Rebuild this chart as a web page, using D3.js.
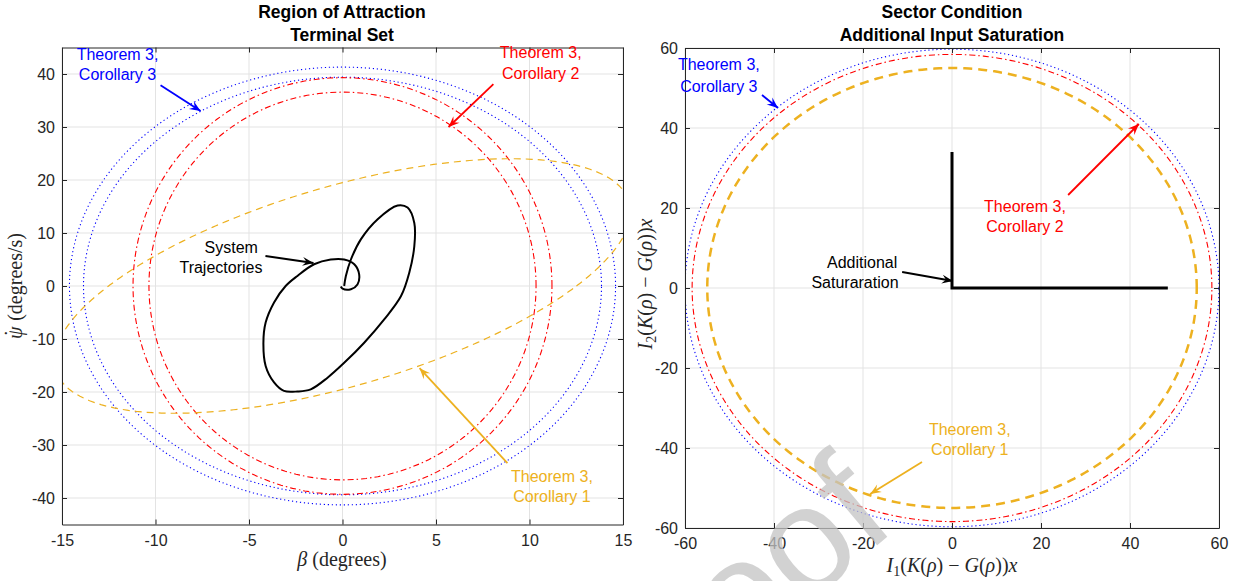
<!DOCTYPE html>
<html lang="en">
<head>
<meta charset="UTF-8">
<title>Region of Attraction / Sector Condition</title>
<style>
  body { margin: 0; background: #fff; }
  svg text { font-family: "Liberation Sans", Arial, Helvetica, sans-serif; }
  .tick text { font-size: 16px; fill: #262626; }
  .tick line { stroke: #262626; }
  .domain { stroke: #262626; }
  .title { font-size: 17.5px; font-weight: bold; fill: #000; }
  .axlabel { font-family: "Liberation Serif", "Times New Roman", serif; font-size: 20px; fill: #262626; }
  .note { font-size: 16px; }
</style>
</head>
<body>
<svg id="chart" width="1244" height="581"></svg>
<script src="https://cdn.jsdelivr.net/npm/d3@7"></script>
<script>

// ---------- left panel: region of attraction / terminal set ----------
const leftXTicks = [-15, -10, -5, 0, 5, 10, 15]
const leftYTicks = [-40, -30, -20, -10, 0, 10, 20, 30, 40]

// level sets x'Px = 1, x = [beta, psiDot]
const roaSet = ["cor3", "cor3", "cor2", "cor2", "cor1"]
const roaP11 = [0.00469, 0.005213, 0.00797, 0.009335, 0.00639]
const roaP12 = [0, 0, 0, 0, -0.002393]
const roaP22 = [0.000586, 0.000644, 0.000647, 0.000747, 0.00263]

// closed-loop trajectory
const trajBeta = [0.09, 0.18, 0.45, 0.98, 1.88, 2.95, 3.48, 3.84, 3.84, 3.57, 3.13, 2.23, 1.16, 0.09,
    -0.80, -1.70, -2.41, -3.13, -3.66, -4.11, -4.23, -4.11, -3.66, -3.04, -2.41, -1.52, -0.63, 0.09,
    0.63, 0.89, 0.80, 0.45, 0, -0.09]
const trajPsiDot = [0, 1.9, 5.0, 8.8, 12.6, 15.2, 14.8, 11.9, 7.5, 2.5, -1.9, -6.3, -10.7, -14.5,
    -17.3, -19.5, -19.9, -19.8, -18.2, -15.1, -10.7, -6.9, -3.1, 0, 1.9, 4.1, 5.0, 5.0,
    4.1, 2.2, 0.3, -0.6, -0.5, -0.1]

// ---------- right panel: sector condition ----------
const rightTicks = [-60, -40, -20, 0, 20, 40, 60]

const sectorSet = ["cor3", "cor2", "cor1"]
const sectorP11 = [0.0002778, 0.0002932, 0.0003306]
const sectorP12 = [0, 0, 0]
const sectorP22 = [0.0002806, 0.0002932, 0.0003306]

// additional input saturation
const satI1 = [0, 0, 48.5]
const satI2 = [34, 0, 0]

const styles = {
    cor3: { color: "#0000ff", dash: "1.2 2.8", width: 1.1 },
    cor2: { color: "#ff0000", dash: "6 3 1.5 3", width: 1.1 },
    cor1: { color: "#EDB120", dash: "7 5", width: 1.2 }
}

const svg = d3.select("#chart")
const defs = svg.append("defs")

function arrowMarker(id, color) {
    defs.append("marker")
        .attr("id", id)
        .attr("markerUnits", "userSpaceOnUse")
        .attr("viewBox", "-12 -6 14 12")
        .attr("markerWidth", 14).attr("markerHeight", 12)
        .attr("refX", 0).attr("refY", 0)
        .attr("orient", "auto")
        .append("path")
        .attr("d", "M0,0 L-11,-4.5 L-7,0 L-11,4.5 Z")
        .attr("fill", color)
}
arrowMarker("ah-blue", "#0000ff")
arrowMarker("ah-red", "#ff0000")
arrowMarker("ah-orange", "#EDB120")
arrowMarker("ah-black", "#000")

function ellipsePoints(p11, p12, p22) {
    return d3.range(0, 361).map(a => {
        let t = a * Math.PI / 180
        let c = Math.cos(t), s = Math.sin(t)
        let r = 1 / Math.sqrt(p11 * c * c + 2 * p12 * c * s + p22 * s * s)
        return [r * c, r * s]
    })
}

function makePanel(id, xDomain, yDomain, left, right, top, bottom, xTicks, yTicks) {
    let x = d3.scaleLinear().domain(xDomain).range([left, right])
    let y = d3.scaleLinear().domain(yDomain).range([bottom, top])
    let g = svg.append("g").attr("id", id)

    defs.append("clipPath").attr("id", id + "-clip")
        .append("rect")
        .attr("x", left).attr("y", top)
        .attr("width", right - left).attr("height", bottom - top)

    // grid
    g.append("g").selectAll("line.gx").data(xTicks).enter().append("line")
        .attr("x1", d => x(d)).attr("x2", d => x(d))
        .attr("y1", top).attr("y2", bottom)
        .attr("stroke", "#e3e3e3")
    g.append("g").selectAll("line.gy").data(yTicks).enter().append("line")
        .attr("y1", d => y(d)).attr("y2", d => y(d))
        .attr("x1", left).attr("x2", right)
        .attr("stroke", "#e3e3e3")

    let plot = g.append("g").attr("clip-path", `url(#${id}-clip)`)

    let fmt = d => String(d)
    g.append("g").attr("transform", `translate(0,${bottom})`)
        .call(d3.axisBottom(x).tickValues(xTicks).tickSize(-5).tickSizeOuter(0).tickPadding(10).tickFormat(fmt))
    g.append("g").attr("transform", `translate(0,${top})`)
        .call(d3.axisTop(x).tickValues(xTicks).tickSize(-5).tickSizeOuter(0).tickFormat(""))
    g.append("g").attr("transform", `translate(${left},0)`)
        .call(d3.axisLeft(y).tickValues(yTicks).tickSize(-5).tickSizeOuter(0).tickPadding(7).tickFormat(fmt))
    g.append("g").attr("transform", `translate(${right},0)`)
        .call(d3.axisRight(y).tickValues(yTicks).tickSize(-5).tickSizeOuter(0).tickFormat(""))
    g.selectAll("g").attr("font-size", null).attr("font-family", null)

    return { x, y, g, plot }
}

function drawEllipses(panel, sets, p11, p12, p22, over) {
    let line = d3.line().x(d => panel.x(d[0])).y(d => panel.y(d[1]))
    sets.forEach((s, i) => {
        let st = Object.assign({}, styles[s], over[s] || {})
        panel.plot.append("path")
            .attr("d", line(ellipsePoints(p11[i], p12[i], p22[i])))
            .attr("fill", "none")
            .attr("stroke", st.color)
            .attr("stroke-width", st.width)
            .attr("stroke-dasharray", st.dash)
    })
}

function note(panel, lines, color, arrow, marker) {
    // lines: [[xData, yData, text]], arrow: [x0, y0, x1, y1] in data units
    lines.forEach(l => {
        panel.g.append("text").attr("class", "note")
            .attr("x", panel.x(l[0])).attr("y", panel.y(l[1]))
            .attr("text-anchor", "middle")
            .attr("fill", color)
            .text(l[2])
    })
    panel.g.append("line")
        .attr("x1", panel.x(arrow[0])).attr("y1", panel.y(arrow[1]))
        .attr("x2", panel.x(arrow[2])).attr("y2", panel.y(arrow[3]))
        .attr("stroke", color).attr("stroke-width", 1.8)
        .attr("marker-end", `url(#${marker})`)
}

// ===== left =====
let L = makePanel("left", [-15, 15], [-45, 45], 62, 623, 47.5, 524.5, leftXTicks, leftYTicks)
drawEllipses(L, roaSet, roaP11, roaP12, roaP22, {})

L.plot.append("path")
    .datum(trajBeta.map((b, i) => [b, trajPsiDot[i]]))
    .attr("d", d3.line().x(d => L.x(d[0])).y(d => L.y(d[1])).curve(d3.curveCatmullRom.alpha(0.5)))
    .attr("fill", "none").attr("stroke", "#000").attr("stroke-width", 2)
    .attr("stroke-linejoin", "round")

note(L, [[-12.03, 42.6, "Theorem 3,"], [-12.03, 38.8, "Corollary 3"]], "#0000ff", [-9.73, 37.9, -7.59, 33.0], "ah-blue")
note(L, [[10.6, 43.0, "Theorem 3,"], [10.6, 39.0, "Corollary 2"]], "#ff0000", [8.07, 38.1, 5.67, 30.0], "ah-red")
note(L, [[-5.95, 6.3, "System"], [-6.5, 2.5, "Trajectories"]], "#000", [-4.12, 5.66, -1.55, 4.34], "ah-black")
note(L, [[11.2, -36.9, "Theorem 3,"], [11.2, -40.7, "Corollary 1"]], "#EDB120", [8.82, -33.4, 4.12, -15.5], "ah-orange")

svg.append("text").attr("class", "title").attr("x", 342).attr("y", 18).attr("text-anchor", "middle").text("Region of Attraction")
svg.append("text").attr("class", "title").attr("x", 342).attr("y", 41).attr("text-anchor", "middle").text("Terminal Set")

let xl = svg.append("text").attr("class", "axlabel").attr("x", 342).attr("y", 566).attr("text-anchor", "middle")
xl.append("tspan").attr("font-style", "italic").text("β")
xl.append("tspan").text(" (degrees)")

let yl = svg.append("text").attr("class", "axlabel").attr("text-anchor", "middle")
    .attr("transform", "translate(22,286) rotate(-90)")
yl.append("tspan").attr("font-style", "italic").text("ψ")
yl.append("tspan").attr("dx", -10).attr("dy", -3).text("\u02D9")
yl.append("tspan").attr("dx", 4).attr("dy", 3).text(" (degrees/s)")

// ===== right =====
let R = makePanel("right", [-60, 60], [-60, 60], 685, 1219, 48, 528, rightTicks, rightTicks)
drawEllipses(R, sectorSet, sectorP11, sectorP12, sectorP22, { cor1: { width: 2.5, dash: "9 6" } })

R.plot.append("path")
    .datum(satI1.map((v, i) => [v, satI2[i]]))
    .attr("d", d3.line().x(d => R.x(d[0])).y(d => R.y(d[1])))
    .attr("fill", "none").attr("stroke", "#000").attr("stroke-width", 3)

note(R, [[-52.4, 54.5, "Theorem 3,"], [-52.4, 49.0, "Corollary 3"]], "#0000ff", [-42.7, 48.25, -39.1, 45.0], "ah-blue")
note(R, [[16.4, 19.0, "Theorem 3,"], [16.4, 14.0, "Corollary 2"]], "#ff0000", [26.1, 23.25, 42.0, 41.0], "ah-red")
note(R, [[-20.2, 5.0, "Additional"], [-21.8, 0.0, "Saturaration"]], "#000", [-11.2, 4.0, 0.2, 1.75], "ah-black")
note(R, [[4.0, -36.8, "Theorem 3,"], [4.0, -41.8, "Corollary 1"]], "#EDB120", [-6.74, -43.5, -18.4, -51.5], "ah-orange")

svg.append("text").attr("class", "title").attr("x", 952).attr("y", 18).attr("text-anchor", "middle").text("Sector Condition")
svg.append("text").attr("class", "title").attr("x", 952).attr("y", 41).attr("text-anchor", "middle").text("Additional Input Saturation")

function sectorLabel(sel, sub) {
    sel.append("tspan").attr("font-style", "italic").text("I")
    sel.append("tspan").attr("font-size", "14px").attr("dy", 4).text(sub)
    sel.append("tspan").attr("dy", -4).text("(")
    sel.append("tspan").attr("font-style", "italic").text("K")
    sel.append("tspan").text("(")
    sel.append("tspan").attr("font-style", "italic").text("ρ")
    sel.append("tspan").text(") − ")
    sel.append("tspan").attr("font-style", "italic").text("G")
    sel.append("tspan").text("(")
    sel.append("tspan").attr("font-style", "italic").text("ρ")
    sel.append("tspan").text("))")
    sel.append("tspan").attr("font-style", "italic").text("x")
}
sectorLabel(svg.append("text").attr("class", "axlabel").attr("x", 952).attr("y", 572).attr("text-anchor", "middle"), "1")
sectorLabel(svg.append("text").attr("class", "axlabel").attr("text-anchor", "middle")
    .attr("transform", "translate(652,284) rotate(-90)"), "2")

// watermark
svg.append("text")
    .attr("transform", "translate(899,527) rotate(-40)")
    .attr("text-anchor", "end")
    .attr("font-size", 150)
    .attr("fill", "#c4c4c4")
    .attr("opacity", 0.75)
    .text("Journal Pre-proof")

</script>
</body>
</html>
